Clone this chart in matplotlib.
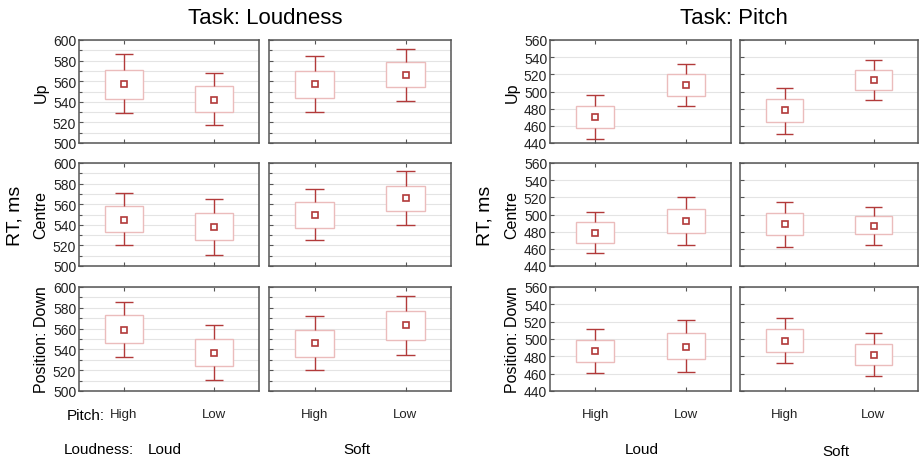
import matplotlib.pyplot as plt
import numpy as np

plt.rcParams['font.family'] = ['Liberation Sans', 'DejaVu Sans']

# conditions in each row: Loud-High, Loud-Low, Soft-High, Soft-Low
positions = ['Up', 'Centre', 'Position: Down']
pitch_levels = ['High', 'Low']
loudness_levels = ['Loud', 'Soft']

# Task: Loudness
loud_mean = [[557, 542, 557, 566],
             [545, 538, 550, 566],
             [559, 537, 546, 563]]
loud_box_lo = [[543, 530, 544, 554],
               [533, 525, 537, 553],
               [546, 524, 533, 549]]
loud_box_hi = [[571, 555, 570, 579],
               [558, 551, 562, 578],
               [573, 550, 559, 577]]
loud_wh_lo = [[529, 517, 530, 541],
              [520, 511, 525, 540],
              [533, 511, 520, 535]]
loud_wh_hi = [[586, 568, 584, 591],
              [571, 565, 575, 592],
              [586, 563, 572, 591]]

# Task: Pitch
pitch_mean = [[470, 507, 478, 513],
              [479, 492, 489, 487],
              [486, 491, 498, 482]]
pitch_box_lo = [[458, 495, 465, 502],
                [467, 479, 476, 477],
                [473, 477, 485, 470]]
pitch_box_hi = [[483, 520, 491, 525],
                [491, 506, 502, 498],
                [499, 507, 511, 494]]
pitch_wh_lo = [[445, 483, 451, 490],
               [455, 465, 462, 465],
               [461, 462, 472, 457]]
pitch_wh_hi = [[496, 532, 504, 537],
                [503, 520, 515, 509],
                [511, 522, 524, 507]]

W, H = 919, 460
fig = plt.figure(figsize=(W / 100, H / 100), dpi=100)

whisk_c = '#b23a3a'
box_c = '#ebbcbc'
grid_c = '#e4e4e4'
spine_c = '#555555'


def px_axes(x0, y0, x1, y1):
    return fig.add_axes([x0 / W, 1 - y1 / H, (x1 - x0) / W, (y1 - y0) / H])


def draw_panel(ax, mean, blo, bhi, wlo, whi, ylim, minor):
    x = np.arange(2)
    mean, blo, bhi = np.array(mean), np.array(blo), np.array(bhi)
    wlo, whi = np.array(wlo), np.array(whi)
    ax.bar(x, bhi - blo, bottom=blo, width=0.42, color='white',
           edgecolor=box_c, linewidth=1, zorder=3)
    ax.vlines(x, wlo, blo, color=whisk_c, lw=1, zorder=3)
    ax.vlines(x, bhi, whi, color=whisk_c, lw=1, zorder=3)
    ax.hlines(wlo, x - 0.1, x + 0.1, color=whisk_c, lw=1, zorder=3)
    ax.hlines(whi, x - 0.1, x + 0.1, color=whisk_c, lw=1, zorder=3)
    ax.plot(x, mean, 's', ms=4, mfc='white', mec=whisk_c, mew=1.2, zorder=4)
    ax.set_xlim(-0.5, 1.5)
    ax.set_ylim(*ylim)
    ax.set_yticks(np.arange(ylim[0], ylim[1] + 1, 20))
    if minor:
        ax.set_yticks(np.arange(ylim[0] + 10, ylim[1], 20), minor=True)
    ax.grid(axis='y', which='both', color=grid_c, lw=0.8, zorder=0)
    ax.set_xticks(x)
    ax.tick_params(direction='in', length=3, width=0.8, color=spine_c,
                   top=True, labelsize=10, labelcolor='#222222', pad=2)
    ax.tick_params(which='minor', direction='in', length=2, width=0.8,
                   color=spine_c)
    for s in ax.spines.values():
        s.set_color(spine_c)
        s.set_linewidth(1.1)


rows_y = [(41, 144), (164, 267), (288, 392)]
tasks = [
    ('Task: Loudness', [(79, 259), (269, 451)], (500, 600), True,
     loud_mean, loud_box_lo, loud_box_hi, loud_wh_lo, loud_wh_hi),
    ('Task: Pitch', [(550, 731), (740, 918)], (440, 560), False,
     pitch_mean, pitch_box_lo, pitch_box_hi, pitch_wh_lo, pitch_wh_hi),
]

for ti, (title, cols_x, ylim, minor, mn, blo, bhi, wlo, whi) in enumerate(tasks):
    for r, (y0, y1) in enumerate(rows_y):
        for c, (x0, x1) in enumerate(cols_x):
            ax = px_axes(x0, y0, x1, y1)
            sl = slice(2 * c, 2 * c + 2)
            draw_panel(ax, mn[r][sl], blo[r][sl], bhi[r][sl],
                       wlo[r][sl], whi[r][sl], ylim, minor)
            if c == 0:
                ax.set_ylabel(positions[r], fontsize=11.5, labelpad=3)
            else:
                ax.set_yticklabels([])
            if r == 2:
                ax.set_xticklabels(pitch_levels, fontsize=9.5)
                ax.tick_params(axis='x', pad=12)
            else:
                ax.set_xticklabels([])
    xc = (cols_x[0][0] + cols_x[1][1]) / 2
    fig.text(xc / W, 1 - 18 / H, title, ha='center', va='center', fontsize=16)
    fig.text((15 if ti == 0 else 485) / W, 1 - 216 / H, 'RT, ms', rotation=90,
             ha='center', va='center', fontsize=14)

fig.text(67 / W, 1 - 416 / H, 'Pitch:', ha='left', va='center', fontsize=11)
fig.text(64 / W, 1 - 450 / H, 'Loudness:', ha='left', va='center', fontsize=11)
fig.text(165 / W, 1 - 450 / H, loudness_levels[0], ha='center', va='center', fontsize=11)
fig.text(357 / W, 1 - 450 / H, loudness_levels[1], ha='center', va='center', fontsize=11)
fig.text(642 / W, 1 - 450 / H, loudness_levels[0], ha='center', va='center', fontsize=11)
fig.text(836 / W, 1 - 452 / H, loudness_levels[1], ha='center', va='center', fontsize=11)

fig.savefig('out.png', dpi=100)
